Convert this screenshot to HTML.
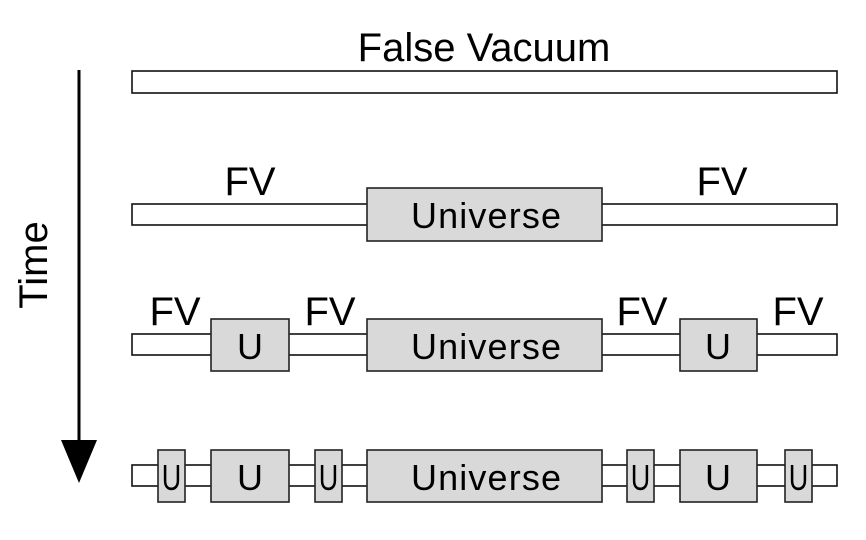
<!DOCTYPE html>
<html><head><style>body{margin:0;background:#fff}</style></head><body>
<svg width="866" height="535" xmlns="http://www.w3.org/2000/svg" font-family="Liberation Sans, DejaVu Sans, sans-serif">
<g stroke="#111" stroke-width="1.6" fill="#fff">
<rect x="132" y="71" width="705" height="22"/>
<rect x="132" y="204" width="705" height="21"/>
<rect x="132" y="334" width="705" height="21"/>
<rect x="132" y="465" width="705" height="21"/>
</g>
<g stroke="#222" stroke-width="1.6" fill="#d9d9d9">
<rect x="367" y="188" width="235" height="53"/>
<rect x="211" y="319" width="78" height="52"/>
<rect x="367" y="319" width="235" height="52"/>
<rect x="680" y="319" width="77" height="52"/>
<rect x="158" y="450" width="27" height="52"/>
<rect x="211" y="450" width="78" height="52"/>
<rect x="315" y="450" width="27" height="52"/>
<rect x="367" y="450" width="235" height="52"/>
<rect x="627" y="450" width="27" height="52"/>
<rect x="680" y="450" width="77" height="52"/>
<rect x="785" y="450" width="27" height="52"/>
</g>
<g font-size="40" fill="#000" text-anchor="middle">
<text x="484" y="61">False Vacuum</text>
<text x="250" y="195">FV</text>
<text x="722" y="195">FV</text>
<text x="175" y="325">FV</text>
<text x="330" y="325">FV</text>
<text x="642" y="325">FV</text>
<text x="798" y="325">FV</text>
</g>
<g font-size="36" fill="#000" text-anchor="middle">
<text x="486" y="228" textLength="150">Universe</text>
<text x="486" y="359" textLength="150">Universe</text>
<text x="250" y="359">U</text>
<text x="718" y="359">U</text>
<text x="486" y="490" textLength="150">Universe</text>
<text x="250" y="490">U</text>
<text x="718" y="490">U</text>
</g>
<g font-size="36" fill="#000" text-anchor="middle">
<text transform="translate(171.5,490) scale(0.75,1)">U</text>
<text transform="translate(328.5,490) scale(0.75,1)">U</text>
<text transform="translate(640.5,490) scale(0.75,1)">U</text>
<text transform="translate(798.5,490) scale(0.75,1)">U</text>
</g>
<line x1="79" y1="70" x2="79" y2="445" stroke="#000" stroke-width="3"/>
<polygon points="61,440 97,440 79,483" fill="#000"/>
<text x="0" y="0" font-size="40" text-anchor="middle" transform="translate(47,265) rotate(-90)">Time</text>
</svg>
</body></html>
